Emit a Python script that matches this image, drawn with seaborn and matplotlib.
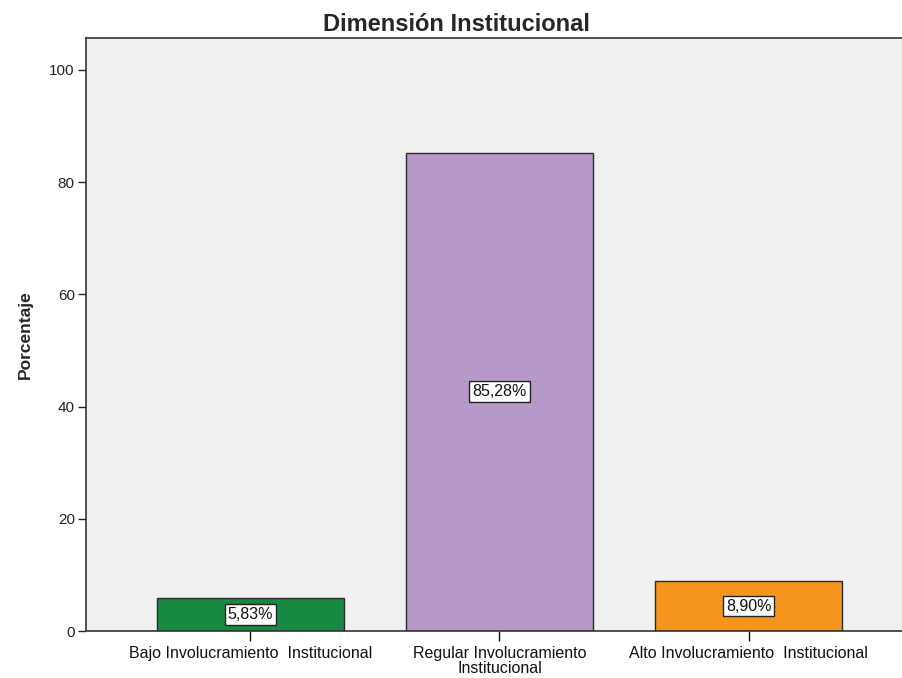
import matplotlib
matplotlib.use("Agg")
import matplotlib.pyplot as plt
import seaborn as sns
import pandas as pd

categories = ["Bajo Involucramiento  Institucional",
              "Regular Involucramiento\nInstitucional",
              "Alto Involucramiento  Institucional"]
percentages = [5.83, 85.28, 8.90]
value_labels = ["5,83%", "85,28%", "8,90%"]
bar_colors = ["#178a42", "#b799c9", "#f6951e"]
y_ticks = [0, 20, 40, 60, 80, 100]

sns.set_theme(style="white")
plt.rcParams["font.family"] = ["Liberation Sans", "DejaVu Sans"]

df = pd.DataFrame({"categoria": categories, "porcentaje": percentages})

fig = plt.figure(figsize=(9.03, 6.78), dpi=100)
ax = fig.add_axes([0.0952, 0.0693, 0.9048, 0.8747])
ax.set_facecolor("#f0f0f0")

sns.barplot(data=df, x="categoria", y="porcentaje", hue="categoria",
            palette=bar_colors, saturation=1, width=0.75,
            edgecolor="#2a2a2a", linewidth=1.0, legend=False, ax=ax)

ax.set_xlim(-0.66, 2.62)
ax.set_ylim(0, 105.7)
ax.set_yticks(y_ticks)
ax.set_yticklabels([str(t) for t in y_ticks], fontsize=11, color="#222222")
ax.tick_params(axis="x", labelsize=11.5, colors="#111111", length=7, width=1,
               direction="out", bottom=True, pad=4)
ax.tick_params(axis="y", length=6, width=1, direction="out", left=True, pad=2)
ax.set_xlabel("")
ax.set_ylabel("Porcentaje", fontsize=12.5, fontweight="bold", labelpad=12)
ax.set_title("Dimensión Institucional", fontsize=17, fontweight="bold",
             x=0.453, pad=5)

for lbl in ax.get_xticklabels():
    lbl.set_linespacing(0.95)
    lbl.set_color("#111111")

for side in ["left", "bottom", "top"]:
    ax.spines[side].set_visible(True)
    ax.spines[side].set_color("#333333")
    ax.spines[side].set_linewidth(1.2)
ax.spines["right"].set_visible(False)

for i, (v, txt) in enumerate(zip(percentages, value_labels)):
    ax.text(i, v / 2, txt, ha="center", va="center", fontsize=11.5, color="#111111",
            bbox=dict(boxstyle="square,pad=0.18", facecolor="white",
                      edgecolor="#222222", linewidth=1.0))

fig.savefig("out.png", dpi=100)
